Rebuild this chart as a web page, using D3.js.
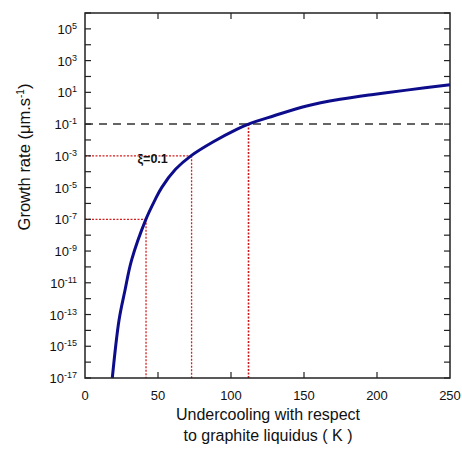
<!DOCTYPE html>
<html>
<head>
<meta charset="utf-8" />
<script src="https://cdn.jsdelivr.net/npm/d3@7"></script>
<style>
  body { margin: 0; background: #fff; }
  text { font-family: "Liberation Sans", Arial, sans-serif; fill: #111; }
</style>
</head>
<body>
<script>
  // undercooling (K) and log10 of growth rate (um/s)
  var undercooling = [18.7, 23.3, 27.4, 31.9, 41.5, 47.9, 52.5, 62, 73, 87.9, 103.9, 112, 129, 151.8, 174.7, 197.5, 220.3, 250];
  var logRate      = [-17, -13.36, -11.47, -9.57, -7.05, -5.79, -5.0, -3.85, -2.97, -2.11, -1.33, -1.0, -0.49, 0.14, 0.56, 0.87, 1.14, 1.48];

  // marked points: [undercooling, growth rate]
  var redMarks = [[41.8, 1e-7], [73, 1e-3]];
  var blackLevel = 1e-1;
  var blackCross = 112;

  var xTicks = [0, 50, 100, 150, 200, 250];
  var yExponents = d3.range(-17, 7, 1);
  var yLabelExponents = [5, 3, 1, -1, -3, -5, -7, -9, -11, -13, -15, -17];

  var w = 462, h = 449;
  var plotL = 85, plotR = 450, plotT = 13, plotB = 378;

  var x = d3.scaleLinear().domain([0, 250]).range([plotL, plotR]);
  var y = d3.scaleLog().domain([1e-17, 1e6]).range([plotB, plotT]);

  var svg = d3.select("body").append("svg")
              .attr("width", w)
              .attr("height", h);

  // guide lines
  svg.append("line")
     .attr("x1", x(0)).attr("x2", x(250))
     .attr("y1", y(blackLevel)).attr("y2", y(blackLevel))
     .attr("stroke", "#333").attr("stroke-width", 1.5)
     .attr("stroke-dasharray", "8,6");

  svg.append("line")
     .attr("x1", x(blackCross)).attr("x2", x(blackCross))
     .attr("y1", y(blackLevel)).attr("y2", y(1e-17))
     .attr("stroke", "#cc1a1a").attr("stroke-width", 1.6)
     .attr("stroke-dasharray", "2,1.5");

  redMarks.forEach(function(m) {
    svg.append("line")
       .attr("x1", x(0)).attr("x2", x(m[0]))
       .attr("y1", y(m[1])).attr("y2", y(m[1]))
       .attr("stroke", "#d42020").attr("stroke-width", 1.3)
       .attr("stroke-dasharray", "2,1.5");
    svg.append("line")
       .attr("x1", x(m[0])).attr("x2", x(m[0]))
       .attr("y1", y(m[1])).attr("y2", y(1e-17))
       .attr("stroke", "#d42020").attr("stroke-width", 1.3)
       .attr("stroke-dasharray", "2,1.5");
  });

  // curve
  var line = d3.line()
               .x(function(d, i) { return x(undercooling[i]); })
               .y(function(d) { return y(Math.pow(10, d)); })
               .curve(d3.curveCatmullRom.alpha(0.5));

  svg.append("path")
     .attr("d", line(logRate))
     .attr("fill", "none")
     .attr("stroke", "#0d0d8c")
     .attr("stroke-width", 3);

  // frame
  svg.append("rect")
     .attr("x", plotL).attr("y", plotT)
     .attr("width", plotR - plotL).attr("height", plotB - plotT)
     .attr("fill", "none").attr("stroke", "#222").attr("stroke-width", 1.5);

  // y ticks (both sides, inward)
  yExponents.forEach(function(e) {
    var yy = y(Math.pow(10, e));
    svg.append("line").attr("x1", plotL).attr("x2", plotL + 6)
       .attr("y1", yy).attr("y2", yy).attr("stroke", "#222").attr("stroke-width", 1.2);
    svg.append("line").attr("x1", plotR).attr("x2", plotR - 6)
       .attr("y1", yy).attr("y2", yy).attr("stroke", "#222").attr("stroke-width", 1.2);
  });

  yLabelExponents.forEach(function(e) {
    var t = svg.append("text")
               .attr("x", plotL - 8)
               .attr("y", y(Math.pow(10, e)) + 5)
               .attr("text-anchor", "end")
               .style("font-size", "13px");
    t.append("tspan").text("10");
    t.append("tspan").attr("dy", -5).style("font-size", "9px").text(e);
  });

  // x ticks (both sides, inward)
  xTicks.slice(1, -1).forEach(function(v) {
    svg.append("line").attr("x1", x(v)).attr("x2", x(v))
       .attr("y1", plotB).attr("y2", plotB - 6).attr("stroke", "#222").attr("stroke-width", 1.2);
    svg.append("line").attr("x1", x(v)).attr("x2", x(v))
       .attr("y1", plotT).attr("y2", plotT + 6).attr("stroke", "#222").attr("stroke-width", 1.2);
  });

  xTicks.forEach(function(v) {
    svg.append("text")
       .attr("x", x(v)).attr("y", 400)
       .attr("text-anchor", "middle")
       .style("font-size", "13px")
       .text(v);
  });

  // annotation
  svg.append("text")
     .attr("x", x(36)).attr("y", y(Math.pow(10, -3.45)))
     .style("font-size", "12.5px").style("font-weight", "bold")
     .text("ξ=0.1");

  // axis titles
  svg.append("text")
     .attr("x", 268).attr("y", 420)
     .attr("text-anchor", "middle").style("font-size", "16px")
     .text("Undercooling with respect");
  svg.append("text")
     .attr("x", 268).attr("y", 441)
     .attr("text-anchor", "middle").style("font-size", "16px")
     .text("to graphite liquidus ( K )");

  var yt = svg.append("text")
              .attr("transform", "translate(30,157) rotate(-90)")
              .attr("text-anchor", "middle").style("font-size", "16.5px");
  yt.append("tspan").text("Growth rate (μm.s");
  yt.append("tspan").attr("dy", -6).style("font-size", "10px").text("-1");
  yt.append("tspan").attr("dy", 6).text(")");
</script>
</body>
</html>
